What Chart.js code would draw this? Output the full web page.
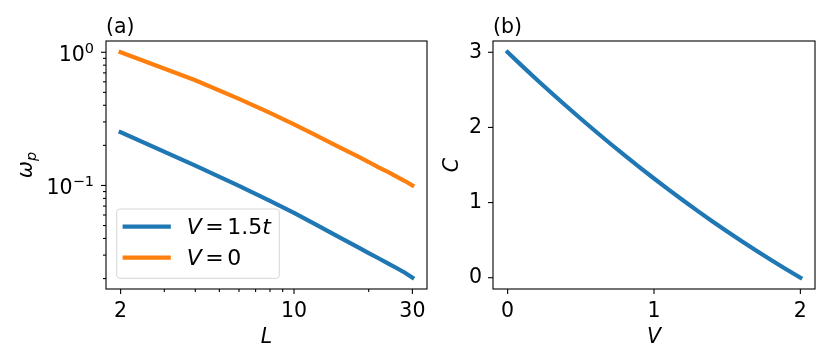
<!DOCTYPE html>
<html>
<head>
<meta charset="utf-8">
<script src="https://cdn.jsdelivr.net/npm/chart.js@4.4.1/dist/chart.umd.min.js"></script>
<style>
  html, body { margin: 0; padding: 0; background: #fff; }
  #wrap { position: relative; width: 830px; height: 363px; }
  canvas { position: absolute; top: 0; }
  #panelA { left: 0; }
  #panelB { left: 430px; }
</style>
</head>
<body>
<div id="wrap">
  <canvas id="panelA" width="430" height="363"></canvas>
  <canvas id="panelB" width="400" height="363"></canvas>
</div>
<script>
// panel (a): gap omega_p against system size L (log-log)
const sizes = [2, 4, 6, 8, 10, 12, 14, 16, 18, 20, 22, 24, 26, 28, 30]
const gapV15 = [0.251, 0.141, 0.0993, 0.0766, 0.0622, 0.0519, 0.0445, 0.0389, 0.0346, 0.0311, 0.0283, 0.0259, 0.0239, 0.0221, 0.0203]
const gapV0 = [1.0, 0.617, 0.447, 0.351, 0.288, 0.243, 0.210, 0.185, 0.166, 0.150, 0.136, 0.126, 0.116, 0.108, 0.100]
const seriesLabels = ['V=1.5t', 'V=0']
const sizeMajorTicks = [2, 10, 30]
const sizeMinorTicks = [3, 4, 5, 6, 7, 8, 9, 20]
const gapMajorTicks = [0.1, 1]
const gapMinorTicks = [0.02, 0.03, 0.04, 0.05, 0.06, 0.07, 0.08, 0.09, 0.2, 0.3, 0.4, 0.5, 0.6, 0.7, 0.8, 0.9]

// panel (b): C against V
const potentials = [0, 0.1, 0.2, 0.3, 0.4, 0.5, 0.6, 0.7, 0.8, 0.9, 1.0, 1.1, 1.2, 1.3, 1.4, 1.5, 1.6, 1.7, 1.8, 1.9, 2.0]
const chern = [3.0, 2.816, 2.635, 2.458, 2.285, 2.115, 1.949, 1.786, 1.627, 1.472, 1.32, 1.172, 1.027, 0.886, 0.749, 0.615, 0.485, 0.358, 0.235, 0.116, 0.0]
const potentialTicks = [0, 1, 2]
const chernTicks = [0, 1, 2, 3]

const BLUE = '#1f77b4'
const ORANGE = '#ff7f0e'
const FAMILY = "'DejaVu Sans', sans-serif"
const TICK_SIZE = 20.5

// split a short formula into italic letters and upright digits / signs
function mathParts (label, size) {
  return label.split('').map((ch) => {
    if (/[A-Za-z\u03b1-\u03c9]/.test(ch)) return { t: ch, italic: true, size }
    if (ch === '=') return { t: ch, size, padL: 3.5, padR: 3.5 }
    return { t: ch, size }
  })
}

// 10^k as "10" with a raised, smaller exponent
const powerParts = (v) => {
  const k = Math.round(Math.log10(v))
  return [{ t: '10', size: TICK_SIZE }, { t: String(k).replace('-', '\u2212'), size: 14.5, dy: -7.5 }]
}

function drawParts (ctx, parts, x, y, align) {
  let w = 0
  for (const p of parts) {
    ctx.font = `${p.italic ? 'italic ' : ''}${p.size}px ${FAMILY}`
    p.w = ctx.measureText(p.t).width + (p.padL || 0) + (p.padR || 0)
    w += p.w
  }
  let cx = x
  if (align === 'center') cx = x - w / 2
  if (align === 'right') cx = x - w
  for (const p of parts) {
    ctx.font = `${p.italic ? 'italic ' : ''}${p.size}px ${FAMILY}`
    ctx.fillText(p.t, cx + (p.padL || 0), y + (p.dy || 0))
    cx += p.w
  }
}

// box, tick marks, panel tag, axis titles and legend in matplotlib style
const frame = {
  id: 'frame',
  afterDraw (chart, args, opts) {
    const { ctx, chartArea: a, scales: { x, y } } = chart
    ctx.save()
    ctx.strokeStyle = '#000'
    ctx.lineWidth = 1.1
    ctx.strokeRect(a.left, a.top, a.right - a.left, a.bottom - a.top)

    const xTick = (vals, len) => vals.forEach((v) => {
      const px = x.getPixelForValue(v)
      ctx.beginPath(); ctx.moveTo(px, a.bottom); ctx.lineTo(px, a.bottom + len); ctx.stroke()
    })
    const yTick = (vals, len) => vals.forEach((v) => {
      const py = y.getPixelForValue(v)
      ctx.beginPath(); ctx.moveTo(a.left, py); ctx.lineTo(a.left - len, py); ctx.stroke()
    })
    xTick(opts.xMajor, 5); xTick(opts.xMinor || [], 3)
    yTick(opts.yMajor, 5); yTick(opts.yMinor || [], 3)

    ctx.fillStyle = '#000'
    ctx.textBaseline = 'alphabetic'
    ctx.textAlign = 'left'

    if (opts.powerLabels) {
      opts.yMajor.forEach((v) => {
        drawParts(ctx, powerParts(v), a.left - 12, y.getPixelForValue(v) + 8.5, 'right')
      })
    }

    ctx.font = `${TICK_SIZE}px ${FAMILY}`
    ctx.fillText(opts.tag, a.left, a.top - 8.5)

    drawParts(ctx, opts.xTitle, (a.left + a.right) / 2, a.bottom + 54, 'center')

    ctx.save()
    ctx.translate(a.left - opts.yTitleGap, (a.top + a.bottom) / 2)
    ctx.rotate(-Math.PI / 2)
    drawParts(ctx, opts.yTitle, 0, 0, 'center')
    ctx.restore()

    if (opts.legend) {
      const bx = a.left + 10.7
      const by = a.bottom - 10.7 - 69.3
      ctx.beginPath()
      ctx.roundRect(bx, by, 162.6, 69.3, 3)
      ctx.fillStyle = 'rgba(255,255,255,0.8)'
      ctx.fill()
      ctx.strokeStyle = 'rgba(204,204,204,0.8)'
      ctx.lineWidth = 1
      ctx.stroke()
      chart.data.datasets.forEach((ds, i) => {
        const ry = by + 17.7 + i * 31
        ctx.strokeStyle = ds.borderColor
        ctx.lineWidth = 4.2
        ctx.lineCap = 'square'
        ctx.beginPath(); ctx.moveTo(bx + 8, ry); ctx.lineTo(bx + 52, ry); ctx.stroke()
        ctx.fillStyle = '#000'
        drawParts(ctx, mathParts(ds.label, 22), bx + 70, ry + 7.6, 'left')
      })
    }
    ctx.restore()
  }
}

function axis (type, min, max, ticks, label, size, padding) {
  return {
    type,
    min,
    max,
    grid: { display: false, drawTicks: false },
    border: { display: false },
    afterBuildTicks: (s) => { s.ticks = ticks.map((v) => ({ value: v })) },
    afterFit: (s) => {
      if (s.isHorizontal()) s.height = size
      else s.width = size
      s.paddingLeft = s.paddingRight = s.paddingTop = s.paddingBottom = 0
    },
    ticks: {
      font: { family: FAMILY, size: TICK_SIZE },
      color: '#000',
      padding,
      maxRotation: 0,
      autoSkip: false,
      callback: label
    }
  }
}

const common = {
  responsive: false,
  animation: false,
  devicePixelRatio: 1,
  events: [],
  elements: { point: { radius: 0 }, line: { borderWidth: 4.2, borderCapStyle: 'square', tension: 0 } }
}

new Chart(document.getElementById('panelA'), {
  type: 'line',
  data: {
    datasets: [
      { label: seriesLabels[0], data: sizes.map((L, i) => ({ x: L, y: gapV15[i] })), borderColor: BLUE },
      { label: seriesLabels[1], data: sizes.map((L, i) => ({ x: L, y: gapV0[i] })), borderColor: ORANGE }
    ]
  },
  options: {
    ...common,
    layout: { padding: { left: 6, right: 3, top: 41, bottom: 4 } },
    scales: {
      x: axis('logarithmic', 1.746, 34.36, sizeMajorTicks, (v) => String(v), 70, 10),
      y: axis('logarithmic', 0.0167, 1.215, gapMajorTicks, () => '', 100, 11)
    },
    plugins: {
      legend: { display: false },
      tooltip: { enabled: false },
      frame: {
        xMajor: sizeMajorTicks,
        xMinor: sizeMinorTicks,
        yMajor: gapMajorTicks,
        yMinor: gapMinorTicks,
        powerLabels: true,
        tag: '(a)',
        xTitle: mathParts('L', 20.5),
        yTitle: [{ t: '\u03c9', italic: true, size: 20.5 }, { t: 'p', italic: true, size: 14.5, dy: 4 }],
        yTitleGap: 74,
        legend: true
      }
    }
  },
  plugins: [frame]
})

new Chart(document.getElementById('panelB'), {
  type: 'line',
  data: {
    datasets: [
      { label: 'C', data: potentials.map((v, i) => ({ x: v, y: chern[i] })), borderColor: BLUE }
    ]
  },
  options: {
    ...common,
    layout: { padding: { left: 3, right: 15, top: 41, bottom: 4 } },
    scales: {
      x: axis('linear', -0.1, 2.1, potentialTicks, (v) => String(v), 70, 10),
      y: axis('linear', -0.15, 3.15, chernTicks, (v) => String(v), 60, 11)
    },
    plugins: {
      legend: { display: false },
      tooltip: { enabled: false },
      frame: {
        xMajor: potentialTicks,
        yMajor: chernTicks,
        tag: '(b)',
        xTitle: mathParts('V', 20.5),
        yTitle: mathParts('C', 20.5),
        yTitleGap: 35,
        legend: false
      }
    }
  },
  plugins: [frame]
})
</script>
</body>
</html>
